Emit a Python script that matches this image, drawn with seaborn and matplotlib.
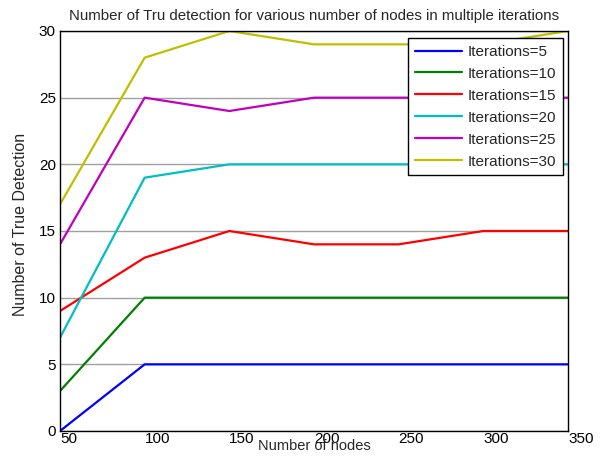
import matplotlib
matplotlib.use("Agg")
import matplotlib.pyplot as plt
import seaborn as sns
import pandas as pd

nodes = [50, 100, 150, 200, 250, 300, 350]
iter5 = [0, 5, 5, 5, 5, 5, 5]
iter10 = [3, 10, 10, 10, 10, 10, 10]
iter15 = [9, 13, 15, 14, 14, 15, 15]
iter20 = [7, 19, 20, 20, 20, 20, 20]
iter25 = [14, 25, 24, 25, 25, 25, 25]
iter30 = [17, 28, 30, 29, 29, 29, 30]
labels = ["Iterations=5", "Iterations=10", "Iterations=15",
          "Iterations=20", "Iterations=25", "Iterations=30"]
xticks = [50, 100, 150, 200, 250, 300, 350]
yticks = [0, 5, 10, 15, 20, 25, 30]

colors = [(0, 0, 1), (0, 0.5, 0), (1, 0, 0), (0, 0.75, 0.75), (0.75, 0, 0.75), (0.75, 0.75, 0)]

rows = []
for lab, vals in zip(labels, [iter5, iter10, iter15, iter20, iter25, iter30]):
    for n, v in zip(nodes, vals):
        rows.append({"nodes": n, "value": v, "series": lab})
df = pd.DataFrame(rows)

sns.set_style("white")
plt.rcParams['font.family'] = ['Liberation Sans', 'DejaVu Sans']

fig = plt.figure(figsize=(6.01, 4.57), dpi=100)
ax = fig.add_axes([60/601, 1-431/457, (568-60)/601, (431-31)/457])

sns.lineplot(data=df, x="nodes", y="value", hue="series", hue_order=labels,
             palette=colors, linewidth=1.6, ax=ax, legend=True)

ax.set_xlim(50, 350)
ax.set_ylim(0, 30)
ax.set_xticks(xticks)
ax.set_yticks(yticks)
ax.set_xticklabels([str(t) for t in xticks], ha='left', fontsize=11)
ax.set_yticklabels([str(t) for t in yticks], fontsize=11)
ax.tick_params(axis='both', direction='in', length=4, width=0.8, colors='black', pad=3)
ax.tick_params(axis='x', pad=1)
ax.yaxis.grid(True, color='#a0a0a0', linewidth=1.0)
ax.xaxis.grid(False)
ax.set_axisbelow(True)
for s in ax.spines.values():
    s.set_color('black')
    s.set_linewidth(1.0)

ax.set_title("Number of Tru detection for various number of nodes in multiple iterations",
             fontsize=10.8, pad=8)
ax.set_xlabel("Number of nodes", fontsize=10.5, labelpad=-5)
ax.set_ylabel("Number of True Detection", fontsize=11.5)
ax.yaxis.set_label_coords(-0.063, 0.5175)

leg = ax.legend(loc='upper right', bbox_to_anchor=(0.990, 0.9825), borderaxespad=0,
                fontsize=11, frameon=True, fancybox=False, edgecolor='black', framealpha=1,
                handlelength=3.1, borderpad=0.45, labelspacing=0.52, handletextpad=0.35)
leg.get_frame().set_linewidth(1.0)

fig.savefig("out.png", dpi=100)
